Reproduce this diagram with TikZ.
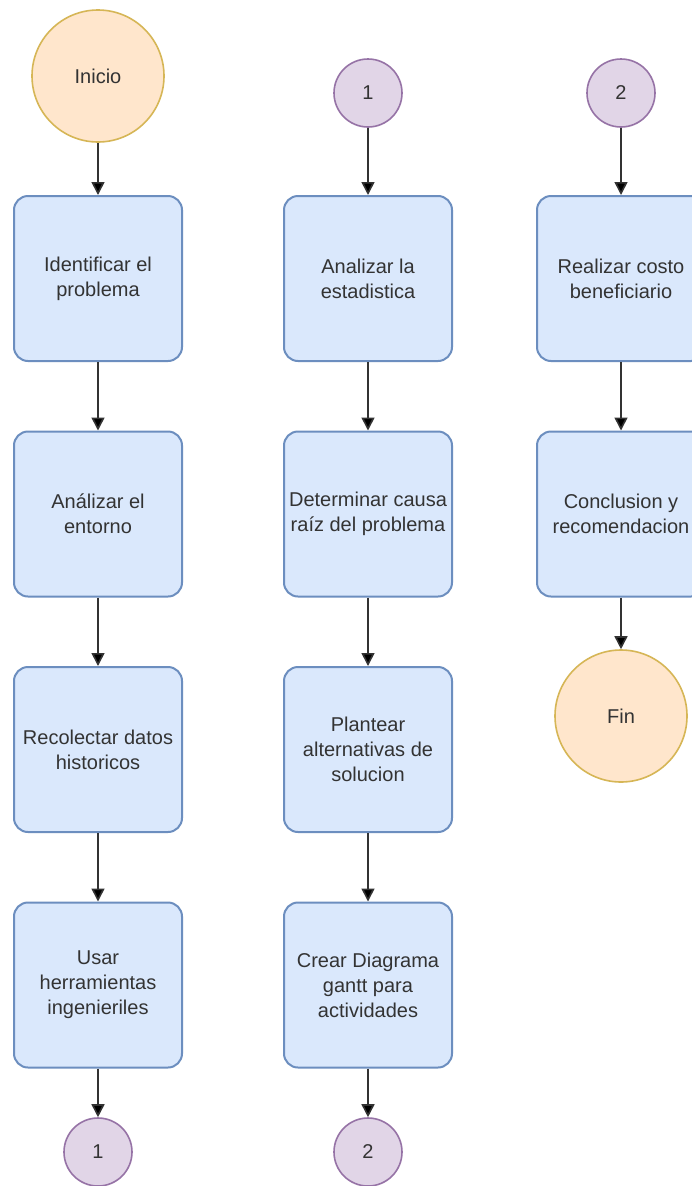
\documentclass[tikz,border=0pt]{standalone}
\usepackage{fontspec}
\setmainfont{Liberation Sans}
\usetikzlibrary{arrows.meta}
\definecolor{boxfill}{HTML}{DAE8FC}
\definecolor{boxline}{HTML}{6C8EBF}
\definecolor{termfill}{HTML}{FFE6CC}
\definecolor{termline}{HTML}{D6B656}
\definecolor{linkfill}{HTML}{E1D5E7}
\definecolor{linkline}{HTML}{9673A6}
\definecolor{txt}{HTML}{333333}
\definecolor{wire}{HTML}{333333}
\tikzset{
  stepbox/.style={rectangle, rounded corners=14pt, draw=boxline, fill=boxfill,
    line width=2pt, minimum width=168pt, minimum height=165pt,
    align=center, text=txt, font=\fontsize{20}{25}\selectfont},
  terminal/.style={circle, draw=termline, fill=termfill, line width=1.6pt,
    minimum size=132pt, inner sep=0pt, text=txt, font=\fontsize{20}{25}\selectfont},
  link/.style={circle, draw=linkline, fill=linkfill, line width=1.6pt,
    minimum size=68pt, inner sep=0pt, text=txt, font=\fontsize{20}{25}\selectfont},
  flow/.style={draw=wire, line width=1.6pt,
    -{Triangle[width=13pt,length=13pt,fill=black]}},
}
\begin{document}
\begin{tikzpicture}[x=1pt, y=-1pt]
  \useasboundingbox (0,0) rectangle (692,1186);
  \clip (0,0) rectangle (692,1186);
  \fill[white] (0,0) rectangle (692,1186);

  % first column
  \node[terminal] (inicio) at (98,76) {Inicio};
  \node[stepbox] (c1a) at (98,278.5) {Identificar el\\problema};
  \node[stepbox] (c1b) at (98,514) {Análizar el\\entorno};
  \node[stepbox] (c1c) at (98,749.5) {Recolectar datos\\historicos};
  \node[stepbox] (c1d) at (98,985) {Usar\\herramientas\\ingenieriles};
  \node[link] (out1) at (98,1152) {1};

  % second column
  \node[link] (in1) at (368,93) {1};
  \node[stepbox] (c2a) at (368,278.5) {Analizar la\\estadistica};
  \node[stepbox] (c2b) at (368,514) {Determinar causa\\raíz del problema};
  \node[stepbox] (c2c) at (368,749.5) {Plantear\\alternativas de\\solucion};
  \node[stepbox] (c2d) at (368,985) {Crear Diagrama\\gantt para\\actividades};
  \node[link] (out2) at (368,1152) {2};

  % third column
  \node[link] (in2) at (621,93) {2};
  \node[stepbox] (c3a) at (621,278.5) {Realizar costo\\beneficiario};
  \node[stepbox] (c3b) at (621,514) {Conclusion y\\recomendacion};
  \node[terminal] (fin) at (621,716) {Fin};

  % connectors
  \draw[flow] (inicio) -- (c1a);
  \draw[flow] (c1a) -- (c1b);
  \draw[flow] (c1b) -- (c1c);
  \draw[flow] (c1c) -- (c1d);
  \draw[flow] (c1d) -- (out1);
  \draw[flow] (in1) -- (c2a);
  \draw[flow] (c2a) -- (c2b);
  \draw[flow] (c2b) -- (c2c);
  \draw[flow] (c2c) -- (c2d);
  \draw[flow] (c2d) -- (out2);
  \draw[flow] (in2) -- (c3a);
  \draw[flow] (c3a) -- (c3b);
  \draw[flow] (c3b) -- (fin);
\end{tikzpicture}
\end{document}
